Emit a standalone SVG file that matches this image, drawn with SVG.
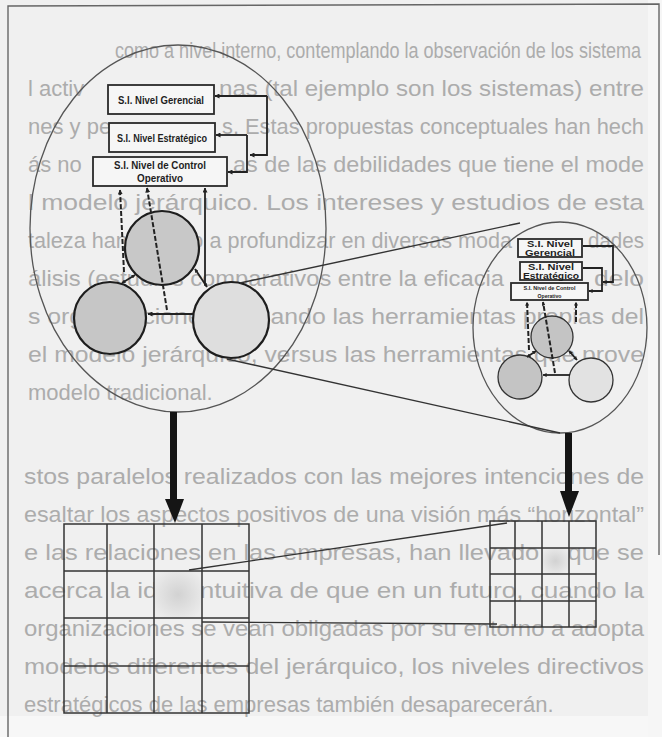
<svg xmlns="http://www.w3.org/2000/svg" width="662" height="737" viewBox="0 0 662 737">
<defs>
<style>
.bg{font-family:"Liberation Sans","DejaVu Sans",sans-serif;font-size:22px;fill:#acacac}
.bx{fill:#f6f6f6;stroke:#2a2a2a;stroke-width:1.8}
.bt{font-family:"Liberation Sans",Arial,sans-serif;font-weight:bold;fill:#1e1e1e;text-anchor:middle}
.ln{fill:none;stroke:#222;stroke-width:1.8}
.thin{fill:none;stroke:#333;stroke-width:1.4}
.dash{fill:none;stroke:#222;stroke-width:2;stroke-dasharray:5 2}
.ell{fill:none;stroke:#555;stroke-width:1.3}
.grid{fill:none;stroke:#333;stroke-width:1.5}
</style>
<marker id="ah" viewBox="0 0 10 10" refX="9" refY="5" markerWidth="5" markerHeight="5" orient="auto-start-reverse" markerUnits="userSpaceOnUse">
<path d="M0,0 L10,5 L0,10 z" fill="#222"/>
</marker>
<marker id="ahs" viewBox="0 0 10 10" refX="9" refY="5" markerWidth="4" markerHeight="4" orient="auto-start-reverse" markerUnits="userSpaceOnUse">
<path d="M0,0 L10,5 L0,10 z" fill="#222"/>
</marker>
<radialGradient id="shade" cx="0.5" cy="0.5" r="0.6">
<stop offset="0" stop-color="#d2d2d2"/>
<stop offset="1" stop-color="#ececec"/>
</radialGradient>
</defs>

<rect x="0" y="0" width="662" height="737" fill="#f0f0f0"/>
<rect x="0" y="716" width="662" height="21" fill="#f7f7f7"/>
<rect x="648" y="0" width="14" height="737" fill="#f6f6f6"/>

<g id="background-text">
<text class="bg" x="115" y="58" font-size="17" textLength="526" lengthAdjust="spacingAndGlyphs">como a nivel interno, contemplando la observación de los sistema</text>
<text class="bg" x="28" y="96">l activ</text>
<text class="bg" x="219" y="96" textLength="425" lengthAdjust="spacingAndGlyphs">nas (tal ejemplo son los sistemas) entre</text>
<text class="bg" x="28" y="134">nes y pe</text>
<text class="bg" x="222" y="134" textLength="422" lengthAdjust="spacingAndGlyphs">s. Estas propuestas conceptuales han hech</text>
<text class="bg" x="28" y="172">ás no</text>
<text class="bg" x="233" y="172" textLength="411" lengthAdjust="spacingAndGlyphs">as de las debilidades que tiene el mode</text>
<text class="bg" x="28" y="210" textLength="616" lengthAdjust="spacingAndGlyphs">l modelo jerárquico. Los intereses y estudios de esta</text>
<text class="bg" x="28" y="248" textLength="484" lengthAdjust="spacingAndGlyphs">taleza han llegado a profundizar en diversas moda</text>
<text class="bg" x="588" y="248" textLength="56" lengthAdjust="spacingAndGlyphs">dades</text>
<text class="bg" x="28" y="286" textLength="476" lengthAdjust="spacingAndGlyphs">álisis (estudios comparativos entre la eficacia</text>
<text class="bg" x="594" y="286" textLength="50" lengthAdjust="spacingAndGlyphs">delo</text>
<text class="bg" x="28" y="324" textLength="616" lengthAdjust="spacingAndGlyphs">s organizaciones utilizando las herramientas propias del</text>
<text class="bg" x="28" y="362" textLength="616" lengthAdjust="spacingAndGlyphs">el modelo jerárquico, versus las herramientas que prove</text>
<text class="bg" x="28" y="400">modelo tradicional.</text>
<text class="bg" x="24" y="484" textLength="620" lengthAdjust="spacingAndGlyphs">stos paralelos realizados con las mejores intenciones de</text>
<text class="bg" x="24" y="522" textLength="620" lengthAdjust="spacingAndGlyphs">esaltar los aspectos positivos de una visión más “horizontal”</text>
<text class="bg" x="24" y="560" textLength="620" lengthAdjust="spacingAndGlyphs">e las relaciones en las empresas, han llevado a que se</text>
<text class="bg" x="24" y="598" textLength="620" lengthAdjust="spacingAndGlyphs">acerca la idea intuitiva de que en un futuro, cuando la</text>
<text class="bg" x="24" y="636" textLength="620" lengthAdjust="spacingAndGlyphs">organizaciones se vean obligadas por su entorno a adopta</text>
<text class="bg" x="24" y="674" textLength="620" lengthAdjust="spacingAndGlyphs">modelos diferentes del jerárquico, los niveles directivos</text>
<text class="bg" x="24" y="712">estratégicos de las empresas también desaparecerán.</text>
</g>

<g id="frame">
<path d="M8,737 L8,6 L659,4 L659,555" fill="none" stroke="#666" stroke-width="1.4"/>
</g>

<g id="big-ellipse">
<ellipse cx="178" cy="228.5" rx="148" ry="183.5" class="ell"/>
</g>

<g id="small-ellipse">
<ellipse cx="560" cy="327.5" rx="87" ry="105.5" class="ell"/>
</g>

<g id="grid-left">
<rect x="154" y="571" width="48" height="47" fill="url(#shade)"/>
<path class="grid" d="M64,524 H249 V713 H64 Z M107,524 V713 M154,524 V713 M202,524 V713 M64,571 H249 M64,618 H249 M64,666 H249"/>
</g>

<g id="grid-right">
<rect x="542" y="548" width="27" height="26" fill="url(#shade)"/>
<path class="grid" d="M490,521 H596 V627 H490 Z M515,521 V627 M542,521 V627 M569,521 V627 M490,548 H596 M490,574 H596 M490,601 H596"/>
</g>

<g id="node-gerencial">
<rect class="bx" x="108" y="85" width="106" height="29"/>
<text class="bt" x="161" y="104" font-size="10.5" textLength="86" lengthAdjust="spacingAndGlyphs">S.I. Nivel Gerencial</text>
</g>
<g id="node-estrategico">
<rect class="bx" x="109" y="123" width="106" height="29"/>
<text class="bt" x="162" y="142" font-size="10.5" textLength="90" lengthAdjust="spacingAndGlyphs">S.I. Nivel Estratégico</text>
</g>
<g id="node-control">
<rect class="bx" x="93" y="157" width="134" height="29"/>
<text class="bt" x="160" y="169" font-size="10.5" textLength="92" lengthAdjust="spacingAndGlyphs">S.I. Nivel de Control</text>
<text class="bt" x="160" y="182" font-size="10.5" textLength="46" lengthAdjust="spacingAndGlyphs">Operativo</text>
</g>

<g id="circle-top">
<circle cx="162" cy="248" r="37" fill="#c8c8c8" stroke="#1e1e1e" stroke-width="2.2"/>
</g>
<g id="circle-left">
<circle cx="110" cy="318" r="36" fill="#c6c6c6" stroke="#1e1e1e" stroke-width="2.2"/>
</g>
<g id="circle-right">
<circle cx="231" cy="320" r="38" fill="#dedede" stroke="#1e1e1e" stroke-width="2.2"/>
</g>

<g id="small-node-gerencial">
<rect class="bx" x="518" y="239" width="64" height="18" stroke-width="1.6"/>
<text class="bt" x="550" y="247" font-size="8.2" font-weight="normal" textLength="46" lengthAdjust="spacingAndGlyphs">S.I. Nivel</text>
<text class="bt" x="550" y="256" font-size="8.2" font-weight="normal" textLength="50" lengthAdjust="spacingAndGlyphs">Gerencial</text>
</g>
<g id="small-node-estrategico">
<rect class="bx" x="520" y="262" width="62" height="18" stroke-width="1.6"/>
<text class="bt" x="551" y="270" font-size="8.2" font-weight="normal" textLength="46" lengthAdjust="spacingAndGlyphs">S.I. Nivel</text>
<text class="bt" x="551" y="279" font-size="8.2" font-weight="normal" textLength="56" lengthAdjust="spacingAndGlyphs">Estratégico</text>
</g>
<g id="small-node-control">
<rect class="bx" x="511" y="283" width="77" height="17" stroke-width="1.4"/>
<text class="bt" x="549.5" y="290" font-size="5" textLength="52" lengthAdjust="spacingAndGlyphs">S.I. Nivel de Control</text>
<text class="bt" x="549.5" y="297.5" font-size="5" textLength="24" lengthAdjust="spacingAndGlyphs">Operativo</text>
</g>

<g id="small-circle-top">
<circle cx="552" cy="337" r="21" fill="#c4c4c4" stroke="#333" stroke-width="1.3"/>
</g>
<g id="small-circle-left">
<circle cx="520" cy="377" r="22" fill="#c4c4c4" stroke="#333" stroke-width="1.3"/>
</g>
<g id="small-circle-right">
<circle cx="591" cy="380" r="22" fill="#e2e2e2" stroke="#333" stroke-width="1.3"/>
</g>

<g id="connectors">
<path class="ln" d="M267,96 V155 H250" marker-end="url(#ah)"/>
<path class="ln" d="M267,96 H215" marker-end="url(#ah)"/>
<path class="ln" d="M247,135 V172 H228" marker-end="url(#ah)"/>
<path class="ln" d="M247,135 H216" marker-end="url(#ah)"/>
<path class="dash" d="M124,272 L120,190" marker-end="url(#ah)"/>
<path class="dash" d="M167,310 L147,188" marker-end="url(#ah)"/>
<path class="ln" d="M205,285 V188" marker-end="url(#ah)"/>
<path class="ln" d="M122,283 L135,275" marker-start="url(#ahs)" marker-end="url(#ahs)"/>
<path class="ln" d="M195,269 L207,287" marker-start="url(#ahs)" marker-end="url(#ahs)"/>
<path class="ln" d="M193,314 H148" marker-end="url(#ah)"/>
<path class="thin" d="M240,283 L520,223"/>
<path class="thin" d="M227,359 L560,433"/>
<path class="ln" stroke-width="1.5" d="M583,246 H613 V282 H603" marker-end="url(#ahs)"/>
<path class="ln" stroke-width="1.5" d="M583,268 H602 V291 H589" marker-end="url(#ahs)"/>
<path class="dash" stroke-width="1.5" stroke-dasharray="3 1.5" d="M529,350 L527,302" marker-end="url(#ahs)"/>
<path class="dash" stroke-width="1.5" stroke-dasharray="3 1.5" d="M555,373 L543,302" marker-end="url(#ahs)"/>
<path class="dash" stroke-width="1.4" stroke-dasharray="3 1.5" d="M576,322 V302" marker-end="url(#ahs)"/>
<path class="ln" stroke-width="1.4" d="M527,357 L536,351" marker-start="url(#ahs)" marker-end="url(#ahs)"/>
<path class="ln" stroke-width="1.4" d="M569,351 L577,360" marker-start="url(#ahs)" marker-end="url(#ahs)"/>
<path class="ln" stroke-width="1.3" d="M570,375 H543" marker-end="url(#ahs)"/>
<rect x="170" y="412" width="7" height="90" fill="#151515"/>
<path d="M165,499 L184,499 L175,523 Z" fill="#151515"/>
<rect x="565" y="433" width="7" height="61" fill="#151515"/>
<path d="M560,491 L579,491 L569,517 Z" fill="#151515"/>
<path class="thin" stroke-width="1.6" d="M189,570 L507,523"/>
<path class="thin" stroke-width="1.6" d="M202,622 L497,624"/>
</g>
</svg>
